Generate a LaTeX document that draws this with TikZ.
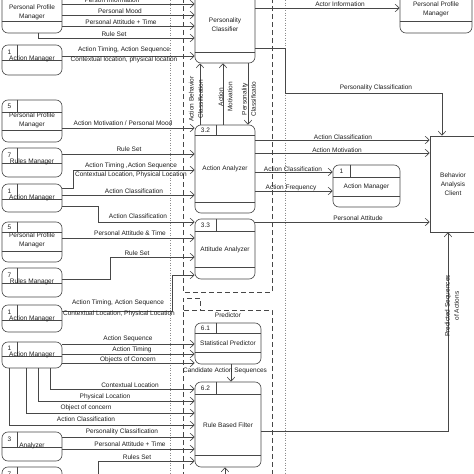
\documentclass[tikz,border=0pt]{standalone}
\usepackage{fontspec}
\setmainfont{Liberation Sans}
\usetikzlibrary{arrows.meta,fit}
\newcommand{\fs}{\fontsize{6.5}{9.3}\selectfont}
\tikzset{
  ln/.style={draw=black!72, line width=0.65pt},
  arr/.style={ln, -{Straight Barb[length=4pt,width=7.5pt]}},
  boxst/.style={draw=black!72, line width=0.65pt, rounded corners=6pt, inner sep=0pt, fill=white},
  sqbox/.style={draw=black!72, line width=0.65pt, inner sep=0pt, fill=white},
  txt/.style={font=\fs, text=black!88, inner sep=0.5pt, align=center},
  dsh/.style={draw=black!72, line width=0.65pt, dash pattern=on 5pt off 3pt},
  dotln/.style={draw=black!45, line width=0.5pt, dash pattern=on 1pt off 1.5pt},
}
\newcommand{\mkbox}[5]{\node[boxst, fit={(#2,#3) (#4,#5)}] (#1) {};}
\newcommand{\hsep}[2]{\draw[ln] (#1.west |- 0,#2) -- (#1.east |- 0,#2);}
\newcommand{\idcell}[3]{\draw[ln] (#1.north -| #2,0) -- (#2,#3);}
\begin{document}
\begin{tikzpicture}[x=1pt,y=-1pt]
\useasboundingbox (0,0) rectangle (474,474);
\clip (0,0) rectangle (474,474);
\fill[white] (0,0) rectangle (474,474);
% guides
\draw[dotln] (170,0) -- (170,474);
\draw[dotln] (285,0) -- (285,474);
\draw[dsh] (183,-10) rectangle (272,292);
\draw[dsh] (183,310) -- (183,298) -- (200,298) -- (200,310);
\draw[dsh] (183,485) -- (183,310) -- (272,310) -- (272,485);
\node[txt] (predlbl) at (228,315) {Predictor};

% left boxes
\mkbox{ppmA}{2}{-15}{62}{33} \hsep{ppmA}{21}
\node[txt] (tppmA) at (32,12.5) {Personal Profile\\Manager};
\mkbox{amA}{2}{45}{62}{75} \hsep{amA}{60} \idcell{amA}{17}{60}
\node[txt] (iamA) at (9.5,52.5) {1}; \node[txt] (tamA) at (32,59) {Action Manager};
\mkbox{ppmB}{2}{100}{62}{142} \hsep{ppmB}{112} \hsep{ppmB}{130} \idcell{ppmB}{17}{112}
\node[txt] (ippmB) at (9.5,106) {5}; \node[txt] (tppmB) at (32,120.5) {Personal Profile\\Manager};
\mkbox{rmC}{2}{148}{62}{177} \hsep{rmC}{163} \idcell{rmC}{17}{163}
\node[txt] (irmC) at (9.5,155) {7}; \node[txt] (trmC) at (32,162) {Rules Manager};
\mkbox{amD}{2}{184}{62}{212} \hsep{amD}{199} \idcell{amD}{17}{199}
\node[txt] (iamD) at (9.5,191) {1}; \node[txt] (tamD) at (32,198) {Action Manager};
\mkbox{ppmE}{2}{222}{62}{262} \hsep{ppmE}{232} \hsep{ppmE}{251} \idcell{ppmE}{17}{232}
\node[txt] (ippmE) at (9.5,227) {5}; \node[txt] (tppmE) at (32,240.5) {Personal Profile\\Manager};
\mkbox{rmF}{2}{268}{62}{297} \hsep{rmF}{283} \idcell{rmF}{17}{283}
\node[txt] (irmF) at (9.5,275) {7}; \node[txt] (trmF) at (32,282) {Rules Manager};
\mkbox{amG}{2}{305}{62}{332} \hsep{amG}{320} \idcell{amG}{17}{320}
\node[txt] (iamG) at (9.5,312) {1}; \node[txt] (tamG) at (32,319) {Action Manager};
\mkbox{amH}{2}{342}{62}{368} \hsep{amH}{356} \idcell{amH}{17}{356}
\node[txt] (iamH) at (9.5,348.5) {1}; \node[txt] (tamH) at (32,355) {Action Manager};
\mkbox{anI}{2}{432}{62}{461} \hsep{anI}{447} \idcell{anI}{17}{447}
\node[txt] (ianI) at (9.5,439) {3}; \node[txt] (tanI) at (32,446) {Analyzer};
\mkbox{rmJ}{2}{467}{62}{496} \hsep{rmJ}{482} \idcell{rmJ}{17}{482}
\node[txt] (irmJ) at (9.5,474) {7};

% process boxes
\mkbox{cls}{195}{-20}{255}{63} \hsep{cls}{52}
\node[txt] (tcls) at (225,24.5) {Personality\\Classifier};
\mkbox{aa}{195}{125}{255}{213} \hsep{aa}{135} \hsep{aa}{202} \idcell{aa}{216}{135}
\node[txt] (iaa) at (205.5,130) {3.2}; \node[txt] (taa) at (225,169) {Action Analyzer};
\mkbox{att}{195}{219}{255}{279} \hsep{att}{231} \hsep{att}{267} \idcell{att}{216}{231}
\node[txt] (iatt) at (205.5,225) {3.3}; \node[txt] (tatt) at (225,250) {Attitude Analyzer};
\mkbox{sp}{195}{323}{261}{364} \hsep{sp}{333} \hsep{sp}{352} \idcell{sp}{216}{333}
\node[txt] (isp) at (205.5,328) {6.1}; \node[txt] (tsp) at (228,343) {Statistical Predictor};
\mkbox{rbf}{195}{382}{261}{467} \hsep{rbf}{394} \hsep{rbf}{455} \idcell{rbf}{216}{394}
\node[txt] (irbf) at (205.5,388) {6.2}; \node[txt] (trbf) at (228,425) {Rule Based Filter};
\mkbox{amR}{333}{165}{400}{207} \hsep{amR}{177} \hsep{amR}{196} \idcell{amR}{350}{177}
\node[txt] (iamR) at (341.5,171) {1}; \node[txt] (tamR) at (366.5,187) {Action Manager};
\mkbox{ppmR}{400}{-15}{472}{33} \hsep{ppmR}{21}
\node[txt] (tppmR) at (436,9.5) {Personal Profile\\Manager};
\node[sqbox, fit={(430,136) (480,232)}] (bac) {};
\node[txt] (tbac) at (453,184) {Behavior\\Analysis\\Client};

% connectors left side
\draw[arr] (ppmA.east |- 0,4) -- (cls.west |- 0,4);
\draw[arr] (ppmA.east |- 0,15) -- (cls.west |- 0,15);
\draw[arr] (ppmA.east |- 0,26) -- (cls.west |- 0,26);
\draw[arr] (ppmA.south -| 38,0) -- (38,38) -- (cls.west |- 0,38);
\draw[arr] (amA.east |- 0,56) -- (cls.west |- 0,56);
\draw[arr] (ppmB.east |- 0,128) -- (aa.west |- 0,128);
\draw[arr] (rmC.east |- 0,154) -- (aa.west |- 0,154);
\draw[arr] (amD.east |- 0,188) -- (73,188) -- (73,170) -- (aa.west |- 0,170);
\draw[arr] (amD.east |- 0,195) -- (aa.west |- 0,195);
\draw[arr] (amD.east |- 0,206) -- (98,206) -- (98,222) -- (att.west |- 0,222);
\draw[arr] (ppmE.east |- 0,238) -- (att.west |- 0,238);
\draw[arr] (rmF.east |- 0,279) -- (110,279) -- (110,257) -- (att.west |- 0,257);
\draw[arr] (amG.east |- 0,311) -- (172,311) -- (172,275) -- (att.west |- 0,275);
\draw[arr] (amH.east |- 0,344) -- (sp.west |- 0,344);
\draw[arr] (amH.east |- 0,354) -- (sp.west |- 0,354);
\draw[arr] (amH.east |- 0,363) -- (sp.west |- 0,363);
\draw[arr] (amH.south -| 50,0) -- (50,389) -- (rbf.west |- 0,389);
\draw[arr] (amH.south -| 38,0) -- (38,401) -- (rbf.west |- 0,401);
\draw[arr] (amH.south -| 26,0) -- (26,413) -- (rbf.west |- 0,413);
\draw[arr] (amH.south -| 9,0) -- (9,425) -- (rbf.west |- 0,425);
\draw[arr] (anI.east |- 0,437) -- (rbf.west |- 0,437);
\draw[arr] (anI.east |- 0,449) -- (rbf.west |- 0,449);
\draw[arr] (rmJ.east |- 0,482) -- (98,482) -- (98,461) -- (rbf.west |- 0,461);
\coordinate (inB) at (225,490);
\draw[arr] (inB) -- (rbf.south -| inB);

% connectors right side
\draw[arr] (cls.east |- 0,8) -- (ppmR.west |- 0,8);
\draw[arr] (cls.east |- 0,48) -- (285,48) -- (285,93) -- (442,93) -- (bac.north -| 442,0);
\draw[arr] (aa.north -| 200,0) -- (cls.south -| 200,0);
\draw[arr] (aa.north -| 223,0) -- (cls.south -| 223,0);
\draw[arr] (cls.south -| 248,0) -- (aa.north -| 248,0);
\draw[arr] (aa.east |- 0,140) -- (bac.west |- 0,140);
\draw[arr] (aa.east |- 0,153) -- (bac.west |- 0,153);
\draw[arr] (aa.east |- 0,172) -- (amR.west |- 0,172);
\draw[arr] (aa.east |- 0,191) -- (amR.west |- 0,191);
\draw[arr] (att.east |- 0,222) -- (bac.west |- 0,222);
\draw[arr] (sp.south -| 231,0) -- (rbf.north -| 231,0);
\draw[arr] (rbf.east |- 0,431) -- (448,431) -- (bac.south -| 448,0);

% labels left
\node[txt] (l1) at (112,0.5) {Person Information};
\node[txt] (l2) at (120,11) {Personal Mood};
\node[txt] (l3) at (121,22.5) {Personal Attitude + Time};
\node[txt] (l4) at (114,34) {Rule Set};
\node[txt] (l5) at (124,50) {Action Timing, Action Sequence};
\node[txt] (l6) at (124,60) {Contextual location, physical location};
\node[txt] (l7) at (123,123) {Action Motivation / Personal Mood};
\node[txt] (l8) at (129,149) {Rule Set};
\node[txt] (l9) at (131,166) {Action Timing ,Action Sequence};
\node[txt] (l10) at (131,175) {Contextual Location, Physical Location};
\node[txt] (l11) at (134,191) {Action Classification};
\node[txt] (l12) at (138,216) {Action Classification};
\node[txt] (l13) at (130,233.5) {Personal Attitude \& Time};
\node[txt] (l14) at (137,253) {Rule Set};
\node[txt] (l15) at (118,303) {Action Timing, Action Sequence};
\node[txt] (l16) at (119,313.5) {Contextual Location, Physical Location};
\node[txt] (l17) at (128,339) {Action Sequence};
\node[txt] (l18) at (132,350) {Action Timing};
\node[txt] (l19) at (128,360) {Objects of Concern};
\node[txt] (l20) at (130,385) {Contextual Location};
\node[txt] (l21) at (105,396.5) {Physical Location};
\node[txt] (l22) at (86,408) {Object of concern};
\node[txt] (l23) at (86,419) {Action Classification};
\node[txt] (l24) at (122,432) {Personality Classification};
\node[txt] (l25) at (130,444.5) {Personal Attitude + Time};
\node[txt] (l26) at (137,457) {Rules Set};

% labels right
\node[txt] (r1) at (340,4.5) {Actor Information};
\node[txt] (r2) at (376,88) {Personality Classification};
\node[txt] (r3) at (343,137) {Action Classification};
\node[txt] (r4) at (337,150) {Action Motivation};
\node[txt] (r5) at (293,169.5) {Action Classification};
\node[txt] (r6) at (291,187.5) {Action Frequency};
\node[txt] (r7) at (358,218) {Personal Attitude};
\node[txt] (r8) at (225,371) {Candidate Action Sequences};
\node[txt, rotate=90] (v1) at (196,99) {Action Behavior\\Classification};
\node[txt, rotate=90] (v2) at (225.5,97) {Action\\Motivation};
\node[txt, rotate=90] (v3) at (249,99) {Personality\\Classificatio};
\node[txt, rotate=90] (v4) at (452,306) {Predicted Sequences\\of Actions};
\end{tikzpicture}
\end{document}
